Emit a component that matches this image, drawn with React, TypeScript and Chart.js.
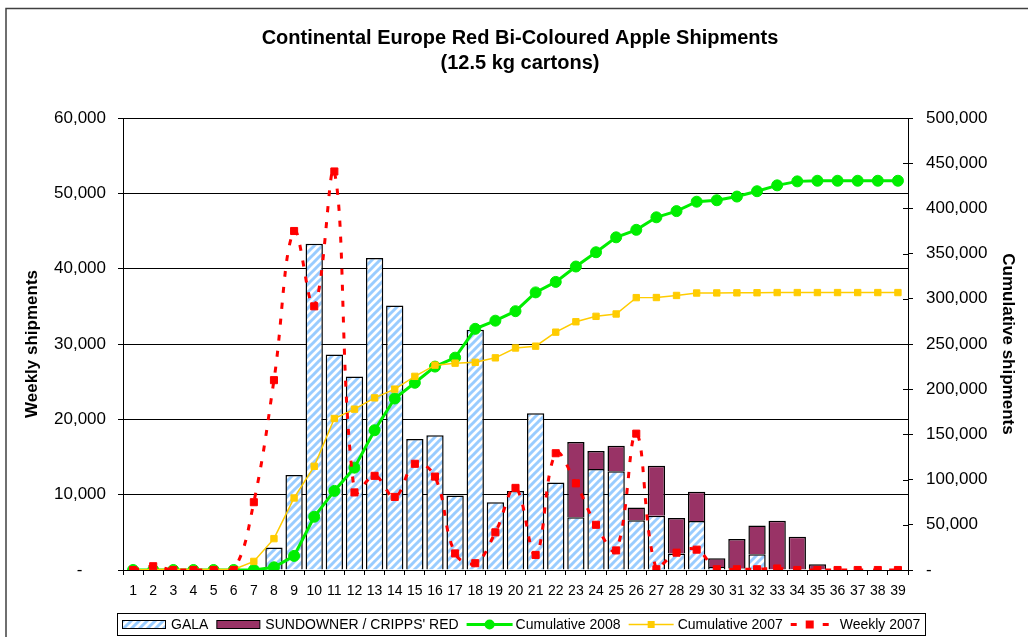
import React, { useEffect, useRef } from 'react';
import { Chart, registerables } from 'chart.js';

Chart.register(...registerables);

// ---------- data ----------
const weeks = [
  '1', '2', '3', '4', '5', '6', '7', '8', '9', '10',
  '11', '12', '13', '14', '15', '16', '17', '18', '19', '20',
  '21', '22', '23', '24', '25', '26', '27', '28', '29', '30',
  '31', '32', '33', '34', '35', '36', '37', '38', '39',
];

const gala = [
  0, 0, 0, 0, 0, 0, 0, 3000, 12600, 43300,
  28600, 25700, 41400, 35100, 17400, 17900, 9900, 31900, 9000, 10500,
  20800, 11600, 7000, 13400, 13100, 6600, 7200, 2200, 6500, 400,
  200, 2100, 0, 0, 0, 0, 0, 0, 0,
];

const sundowner = [
  0, 0, 0, 0, 0, 0, 0, 0, 0, 0,
  0, 0, 0, 0, 0, 0, 0, 0, 0, 0,
  0, 0, 10000, 2400, 3400, 1700, 6650, 4700, 3900, 1150,
  3900, 3800, 6550, 4400, 750, 0, 0, 0, 0,
];

const cumulative2008 = [
  0, 0, 0, 0, 0, 0, 0, 3000, 15600, 58900,
  87500, 113200, 154600, 189700, 207100, 225000, 234900, 266800, 275800, 286300,
  307100, 318700, 335700, 351500, 368000, 376300, 390150, 397000, 407400, 409000,
  413100, 419000, 425500, 429900, 430600, 430600, 430600, 430600, 430600,
];

const cumulative2007 = [
  0, 500, 500, 500, 500, 500, 9500, 34700, 79700, 114700,
  167600, 177900, 190400, 200100, 214200, 226600, 228800, 229700, 234700, 245600,
  247600, 263100, 274600, 280600, 283200, 301300, 301400, 303700, 306400, 306500,
  306600, 306700, 306900, 306900, 306900, 306900, 306900, 306900, 306900,
];

const weekly2007 = [
  0, 500, 0, 0, 0, 0, 9000, 25200, 45000, 35000,
  52900, 10300, 12500, 9700, 14100, 12400, 2200, 900, 5000, 10900,
  2000, 15500, 11500, 6000, 2600, 18100, 100, 2300, 2700, 100,
  100, 100, 200, 0, 0, 0, 0, 0, 0,
];

const seriesNames = ['GALA', "SUNDOWNER / CRIPPS' RED", 'Cumulative 2008', 'Cumulative 2007', 'Weekly 2007'];
const titleLines = ['Continental Europe Red Bi-Coloured Apple Shipments', '(12.5 kg cartons)'];
const leftAxisTitle = 'Weekly shipments';
const rightAxisTitle = 'Cumulative shipments';

// ---------- styles ----------
const FONT = "'Liberation Sans', Arial, Helvetica, sans-serif";
const STRIPE = '#99ccff';
const PLUM = '#993366';
const GREEN = '#00ee00';
const GOLD = '#ffcc00';
const RED = '#ff0000';

function makeStripes(): CanvasPattern | string {
  const size = 8;
  const c = document.createElement('canvas');
  c.width = size;
  c.height = size;
  const g = c.getContext('2d');
  if (!g) return STRIPE;
  g.fillStyle = '#ffffff';
  g.fillRect(0, 0, size, size);
  g.strokeStyle = STRIPE;
  g.lineWidth = 3;
  g.beginPath();
  for (let k = -1; k <= 1; k++) {
    g.moveTo(k * size - 1, size + 1);
    g.lineTo(k * size + size + 1, -1);
  }
  g.stroke();
  const p = g.createPattern(c, 'repeat');
  return p || STRIPE;
}

const fmt = (v: number) => Math.round(v).toLocaleString('en-US');

export default function App() {
  const ref = useRef<HTMLCanvasElement>(null);

  useEffect(() => {
    const canvas = ref.current;
    if (!canvas) return;
    const stripes = makeStripes();

    const decorPlugin = {
      id: 'decor',
      afterDraw(chart: any) {
        const c: CanvasRenderingContext2D = chart.ctx;
        c.save();
        // outer frame
        c.strokeStyle = '#404040';
        c.lineWidth = 1.5;
        c.strokeRect(6, 8.5, 1200, 800);

        // inner tick marks on the right axis
        const y1 = chart.scales.y1;
        c.strokeStyle = '#000';
        c.lineWidth = 1;
        y1.ticks.forEach((t: any) => {
          const py = Math.round(y1.getPixelForValue(t.value)) + 0.5;
          c.beginPath();
          c.moveTo(y1.left - 5, py);
          c.lineTo(y1.left, py);
          c.stroke();
        });

        // legend
        const top = 613.5;
        const h = 22;
        const cy = top + h / 2;
        const slot = 45;
        c.font = `14px ${FONT}`;
        c.textBaseline = 'middle';
        c.textAlign = 'left';
        let x = 122;
        let textEnd = x;
        seriesNames.forEach((name, i) => {
          c.save();
          if (i === 0 || i === 1) {
            c.fillStyle = i === 0 ? (stripes as any) : PLUM;
            c.fillRect(x + 0.5, cy - 4, 43, 8);
            c.strokeStyle = '#000';
            c.lineWidth = 1;
            c.strokeRect(x + 0.5, cy - 4, 43, 8);
          } else if (i === 2) {
            c.strokeStyle = GREEN;
            c.lineWidth = 3;
            c.beginPath();
            c.moveTo(x, cy);
            c.lineTo(x + 46, cy);
            c.stroke();
            c.fillStyle = GREEN;
            c.beginPath();
            c.arc(x + 23, cy, 5, 0, Math.PI * 2);
            c.fill();
          } else if (i === 3) {
            c.strokeStyle = GOLD;
            c.lineWidth = 1.5;
            c.beginPath();
            c.moveTo(x, cy);
            c.lineTo(x + 45, cy);
            c.stroke();
            c.fillStyle = GOLD;
            c.fillRect(x + 22.5 - 3.5, cy - 3.5, 7, 7);
          } else {
            c.strokeStyle = RED;
            c.lineWidth = 3;
            c.setLineDash([6, 10]);
            c.beginPath();
            c.moveTo(x, cy);
            c.lineTo(x + 38, cy);
            c.stroke();
            c.setLineDash([]);
            c.fillStyle = RED;
            c.fillRect(x + 19 - 4, cy - 4, 8, 8);
          }
          c.restore();
          c.fillStyle = '#000';
          const tx = x + slot + 4;
          c.fillText(name, tx, cy + 0.5);
          const w = c.measureText(name).width;
          textEnd = tx + w;
          x = textEnd + 8;
        });
        c.strokeStyle = '#000';
        c.lineWidth = 1;
        c.strokeRect(117.5, top, Math.round(textEnd + 5 - 117.5), h);
        c.restore();
      },
    };

    const chart = new Chart(canvas, {
      type: 'bar',
      data: {
        labels: weeks,
        datasets: [
          {
            type: 'bar',
            label: seriesNames[0],
            data: gala,
            backgroundColor: stripes as any,
            borderColor: '#000',
            borderWidth: 1.5,
            yAxisID: 'y',
            stack: 'bars',
            order: 3,
            barPercentage: 0.86,
            categoryPercentage: 1,
          },
          {
            type: 'bar',
            label: seriesNames[1],
            data: sundowner,
            backgroundColor: PLUM,
            borderColor: '#000',
            borderWidth: 1.5,
            yAxisID: 'y',
            stack: 'bars',
            order: 3,
            barPercentage: 0.86,
            categoryPercentage: 1,
          },
          {
            type: 'line',
            label: seriesNames[2],
            data: cumulative2008,
            borderColor: GREEN,
            backgroundColor: GREEN,
            borderWidth: 3,
            pointStyle: 'circle',
            pointRadius: 5.5,
            pointBackgroundColor: GREEN,
            pointBorderColor: GREEN,
            pointBorderWidth: 1,
            tension: 0,
            fill: false,
            yAxisID: 'y1',
            stack: 'c08',
            order: 2,
          },
          {
            type: 'line',
            label: seriesNames[3],
            data: cumulative2007,
            borderColor: GOLD,
            backgroundColor: GOLD,
            borderWidth: 1.5,
            pointStyle: 'rect',
            pointRadius: 4.5,
            pointBackgroundColor: GOLD,
            pointBorderColor: GOLD,
            pointBorderWidth: 1,
            tension: 0,
            fill: false,
            yAxisID: 'y1',
            stack: 'c07',
            order: 1,
          },
          {
            type: 'line',
            label: seriesNames[4],
            data: weekly2007,
            borderColor: RED,
            backgroundColor: RED,
            borderWidth: 3,
            borderDash: [6, 10],
            pointStyle: 'rect',
            pointRadius: 5,
            pointBackgroundColor: RED,
            pointBorderColor: RED,
            pointBorderWidth: 1,
            tension: 0.4,
            fill: false,
            yAxisID: 'y',
            stack: 'w07',
            order: 0,
          },
        ] as any,
      },
      options: {
        responsive: false,
        animation: false,
        events: [],
        layout: { padding: { top: 0, left: 12, right: 0, bottom: 37 } },
        plugins: {
          legend: { display: false },
          tooltip: { enabled: false },
          title: {
            display: true,
            text: titleLines,
            color: '#000',
            font: { family: FONT, size: 20, weight: 'bold', lineHeight: 1.25 },
            padding: { top: 26, bottom: 42 },
          },
        },
        scales: {
          x: {
            type: 'category',
            offset: true,
            stacked: true,
            grid: {
              offset: true,
              drawOnChartArea: false,
              drawTicks: true,
              tickLength: 5,
              color: '#000',
            },
            border: { color: '#000', width: 1 },
            ticks: {
              color: '#000',
              font: { family: FONT, size: 14 },
              autoSkip: false,
              maxRotation: 0,
              minRotation: 0,
              padding: 8,
            },
            afterFit: (s: any) => {
              s.height = 30;
            },
          },
          y: {
            type: 'linear',
            position: 'left',
            stacked: true,
            min: 0,
            max: 60000,
            grid: { color: '#000', lineWidth: 1, drawTicks: true, tickLength: 5 },
            border: { color: '#000', width: 1 },
            ticks: {
              stepSize: 10000,
              color: '#000',
              font: { family: FONT, size: 17 },
              padding: 12,
              callback: (v: any) => (Number(v) === 0 ? '-     ' : fmt(Number(v))),
            },
            title: {
              display: true,
              text: leftAxisTitle,
              color: '#000',
              font: { family: FONT, size: 17, weight: 'bold' },
              padding: { top: 10, bottom: 0 },
            },
            afterFit: (s: any) => {
              s.width = 111;
            },
          },
          y1: {
            type: 'linear',
            position: 'right',
            min: 0,
            max: 500000,
            grid: { drawOnChartArea: false, drawTicks: true, tickLength: 5, color: '#000' },
            border: { color: '#000', width: 1 },
            ticks: {
              stepSize: 50000,
              color: '#000',
              font: { family: FONT, size: 17 },
              padding: 13,
              callback: (v: any) => (Number(v) === 0 ? '-' : fmt(Number(v))),
            },
            title: {
              display: true,
              text: rightAxisTitle,
              color: '#000',
              font: { family: FONT, size: 17, weight: 'bold' },
              padding: { top: 10, bottom: 0 },
            },
            afterFit: (s: any) => {
              s.width = 120;
            },
          },
        },
      } as any,
      plugins: [decorPlugin],
    });

    return () => chart.destroy();
  }, []);

  return (
    <div style={{ position: 'fixed', left: 0, top: 0, width: 1028, height: 637, background: '#fff' }}>
      <canvas ref={ref} width={1028} height={637} style={{ display: 'block' }} />
    </div>
  );
}
